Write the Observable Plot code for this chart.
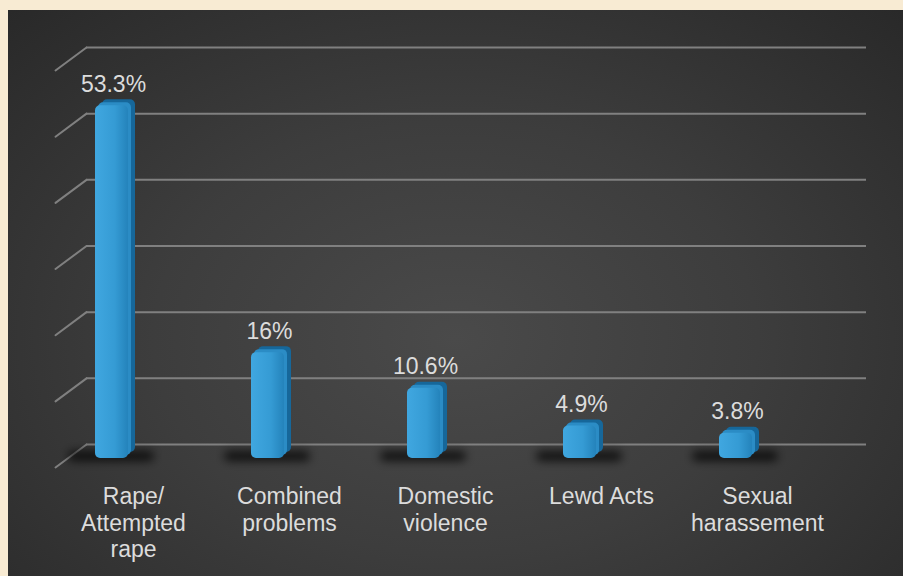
<!DOCTYPE html>
<html><head><meta charset="utf-8">
<script src="https://cdn.jsdelivr.net/npm/d3@7"></script>
<script src="https://cdn.jsdelivr.net/npm/@observablehq/plot@0.6"></script>
<style>
html,body{margin:0;padding:0;}
body{width:903px;height:576px;overflow:hidden;background:#f8ebd3;position:relative;}
#chart{position:absolute;left:8px;top:10px;}
</style></head><body><div id="chart"></div>
<script>
const categories = ["Rape/ Attempted rape", "Combined problems", "Domestic violence", "Lewd Acts", "Sexual harassement"];
const categoryLabels = ["Rape/\nAttempted\nrape", "Combined\nproblems", "Domestic\nviolence", "Lewd Acts", "Sexual\nharassement"];
const values = [53.3, 16, 10.6, 4.9, 3.8];
const valueLabels = ["53.3%", "16%", "10.6%", "4.9%", "3.8%"];
const gridTicks = [0, 10, 20, 30, 40, 50, 60];

const data = categories.map((c, i) => ({category: c, value: values[i], label: valueLabels[i], text: categoryLabels[i]}));

const lineShape = {draw(context, l) { context.moveTo(0, 0); context.lineTo(0, -l); }};
const gridColor = "#808080";
const textColor = "#dcdcdc";

const plot = Plot.plot({
  width: 895,
  height: 566,
  marginLeft: 78,
  marginRight: 37,
  marginTop: 37,
  marginBottom: 132,
  x: {type: "band", domain: categories, padding: 0, axis: null},
  y: {domain: [0, 60], axis: null},
  style: {
    background: "radial-gradient(ellipse 75% 85% at 50% 58%, #4a4a4a 0%, #3d3d3d 45%, #272727 100%)",
    color: textColor,
    fontFamily: "'Liberation Sans', Arial, sans-serif",
    fontSize: "23px",
    overflow: "visible"
  },
  marks: [
    Plot.ruleY(gridTicks, {y: d => d, stroke: gridColor, strokeWidth: 2}),
    Plot.vector(gridTicks, {y: d => d, frameAnchor: "left", anchor: "start", length: 38.6, rotate: 233.4, stroke: gridColor, strokeWidth: 2, shape: lineShape}),
    Plot.barY(data, {x: "category", y1: 0, y2: 0, insetLeft: -18, insetRight: 88, insetTop: -5, insetBottom: -5, dy: 12, fill: "#000", fillOpacity: 0.75, rx: 5}),
    Plot.barY(data, {x: "category", y: "value", insetLeft: 16, insetRight: 107, dy: 8, fill: "#16679a", rx: 5}),
    Plot.barY(data, {x: "category", y: "value", insetLeft: 12, insetRight: 111, dy: 11, fill: "#2b8cc5", rx: 5}),
    Plot.barY(data, {x: "category", y: "value", insetLeft: 9, insetRight: 114, dy: 14, fill: "url(#barFront)", rx: 5}),
    Plot.text(data, {x: "category", y: "value", text: "label", dx: -51, lineAnchor: "bottom", fill: textColor, fontSize: 23}),
    Plot.text(data, {x: "category", text: "text", frameAnchor: "bottom", lineAnchor: "top", dy: 40, dx: -31, fontSize: 23, lineHeight: 1.17, fill: textColor})
  ]
});

const svg = d3.select(plot);
const defs = svg.insert("defs", ":first-child");
const grad = defs.append("linearGradient").attr("id", "barFront").attr("x1", 0).attr("x2", 1).attr("y1", 0).attr("y2", 0);
grad.append("stop").attr("offset", "0%").attr("stop-color", "#40a7e0");
grad.append("stop").attr("offset", "60%").attr("stop-color", "#359bd4");
grad.append("stop").attr("offset", "100%").attr("stop-color", "#2483bb");
const blur = defs.append("filter").attr("id", "shadowBlur").attr("x", "-50%").attr("y", "-300%").attr("width", "200%").attr("height", "700%");
blur.append("feGaussianBlur").attr("stdDeviation", 5);
svg.selectAll('g[fill="#000"]').attr("filter", "url(#shadowBlur)");

document.getElementById("chart").appendChild(plot);
</script>
</body></html>
